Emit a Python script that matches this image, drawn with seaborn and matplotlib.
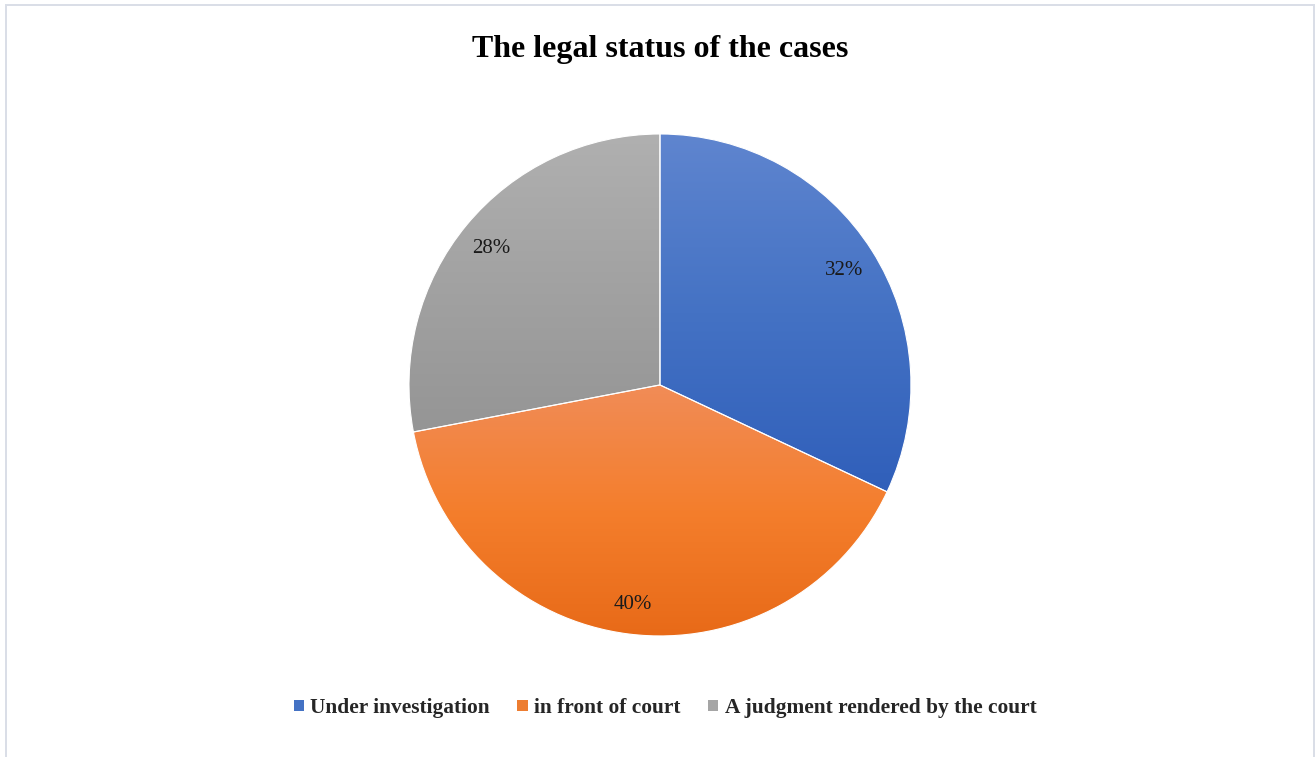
import numpy as np
import matplotlib
matplotlib.use("Agg")
import matplotlib.pyplot as plt
from matplotlib.colors import LinearSegmentedColormap
from matplotlib.patches import Patch, Rectangle
import seaborn as sns

# Case counts by legal status (percent of all cases)
statuses = ["Under investigation", "in front of court", "A judgment rendered by the court"]
shares = [32, 40, 28]
base_colors = ["#4472C4", "#ED7D31", "#A5A5A5"]
# light -> base -> dark stops for each slice's vertical gradient
gradient_stops = [
    ["#5F85CF", "#4472C4", "#305FBA"],
    ["#F18C57", "#F47E2C", "#E86A18"],
    ["#B0B0B0", "#A2A2A2", "#959595"],
]
title = "The legal status of the cases"

sns.set_theme(style="white")
plt.rcParams["font.family"] = ["Liberation Serif", "DejaVu Serif"]

fig = plt.figure(figsize=(13.16, 7.57), dpi=100)
fig.patch.set_facecolor("white")

# thin frame around the chart area
fig.add_artist(Rectangle((5.5 / 1316, -0.01), 1308 / 1316, 1 - 4.5 / 757 + 0.01,
                         transform=fig.transFigure, fill=False,
                         edgecolor="#D9DEE7", linewidth=1.4))

ax = fig.add_axes([0.2631, 0.0770, 0.4768, 0.8289])
wedges, texts, autotexts = ax.pie(
    shares, colors=base_colors, startangle=90, counterclock=False,
    autopct=lambda p: f"{p:.0f}%", pctdistance=0.87,
    wedgeprops=dict(edgecolor="white", linewidth=0.8),
    textprops=dict(fontsize=15, color="#1a1a1a"),
)
ax.set_xlim(-1.25, 1.25)
ax.set_ylim(-1.25, 1.25)
ax.set_aspect("equal")

inv = ax.transData.inverted()
for w, stops in zip(wedges, gradient_stops):
    verts = inv.transform(w.get_verts())
    x0, y0 = verts.min(axis=0)
    x1, y1 = verts.max(axis=0)
    cmap = LinearSegmentedColormap.from_list("g", stops)
    grad = np.linspace(1, 0, 256).reshape(-1, 1)
    im = ax.imshow(grad, cmap=cmap, vmin=0, vmax=1, aspect="auto",
                   extent=[x0, x1, y0, y1], origin="lower", zorder=1,
                   interpolation="bilinear")
    im.set_clip_path(w)
    w.set_facecolor("none")
    w.set_zorder(2)
for t in autotexts:
    t.set_zorder(3)
    t.set_va("center_baseline")

ax.set_xlim(-1.25, 1.25)
ax.set_ylim(-1.25, 1.25)
ax.axis("off")

fig.text(660 / 1316, 1 - 46 / 757, title, ha="center", va="center_baseline",
         fontsize=23, fontweight="bold", color="black")

handles = [Patch(facecolor=c, edgecolor="none") for c in base_colors]
fig.legend(handles, statuses, loc="center", bbox_to_anchor=(665 / 1316, 1 - 708 / 757),
           ncol=3, frameon=False, prop=dict(size=15.4, weight="bold"),
           handlelength=0.47, handleheight=0.47, handletextpad=0.3,
           columnspacing=1.3)

fig.savefig("out.png", dpi=100)
